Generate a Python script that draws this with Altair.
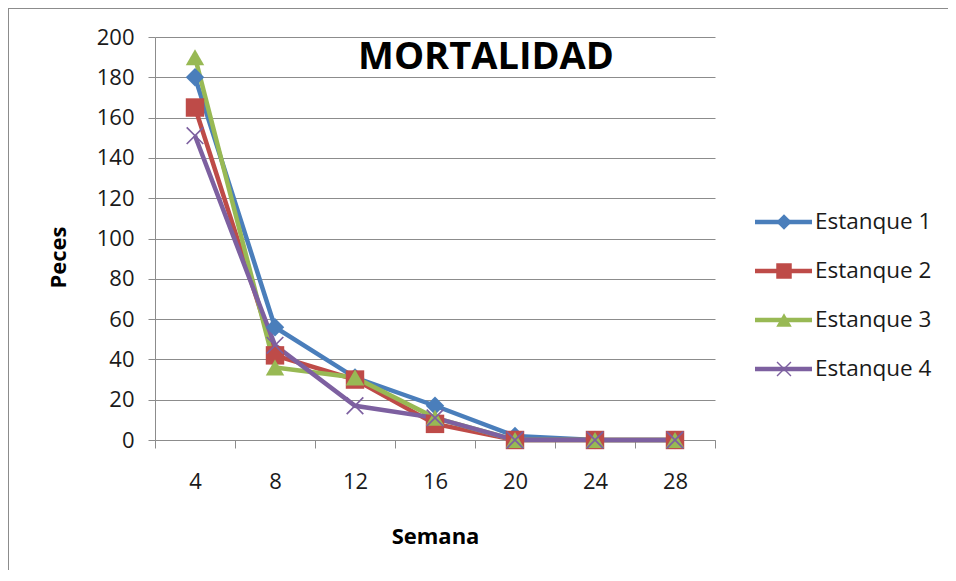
import altair as alt
import pandas as pd

SEMANAS = [4, 8, 12, 16, 20, 24, 28]
SERIES = ["Estanque 1", "Estanque 2", "Estanque 3", "Estanque 4"]
E1 = [180, 56, 31, 17, 2, 0, 0]
E2 = [165, 42, 30, 8, 0, 0, 0]
E3 = [190, 36, 31, 11, 0, 0, 0]
E4 = [151, 47, 17, 11, 0, 0, 0]
COLORS = ["#4A7EBB", "#BE4B48", "#98B954", "#7D60A0"]
Y_TICKS = list(range(0, 201, 20))
TITLE = "MORTALIDAD"
X_TITLE = "Semana"
Y_TITLE = "Peces"

rows = []
for name, vals in zip(SERIES, [E1, E2, E3, E4]):
    for s, v in zip(SEMANAS, vals):
        rows.append({"Semana": s, "Peces": v, "Serie": name})
df = pd.DataFrame(rows)
leg = pd.DataFrame({"Serie": SERIES})
title_df = pd.DataFrame({"t": [TITLE]})

X_PATH = ("M-0.964,-0.836L0.836,0.964L0.964,0.836L-0.836,-0.964Z"
          "M-0.836,0.964L0.964,-0.836L0.836,-0.964L-0.964,0.836Z")
SHAPES = ["diamond", "square", "triangle-up", X_PATH]

FONT = "Open Sans"
GRAY = "#8c8c8c"
TXT = "#1a1a1a"

color = alt.Color("Serie:N", scale=alt.Scale(domain=SERIES, range=COLORS), legend=None)
shape = alt.Shape("Serie:N", scale=alt.Scale(domain=SERIES, range=SHAPES), legend=None)

x = alt.X(
    "Semana:O", sort=SEMANAS,
    scale=alt.Scale(type="band", paddingInner=0, paddingOuter=0),
    axis=alt.Axis(title=X_TITLE, labelAngle=0, tickBand="extent", tickSize=8,
                  grid=False, labelPadding=23, titlePadding=34),
)
y = alt.Y(
    "Peces:Q", scale=alt.Scale(domain=[0, 200], nice=False),
    axis=alt.Axis(title=Y_TITLE, values=Y_TICKS, grid=True, tickSize=7,
                  labelPadding=14, titlePadding=26, titleY=220),
)

lines = alt.Chart(df).mark_line(strokeWidth=4.5).encode(x=x, y=y, color=color, detail="Serie:N")
points = alt.Chart(df).mark_point(filled=True, opacity=1, size=340).encode(
    x=x, y=y, color=color, shape=shape)
plot = alt.layer(lines, points)

ly = alt.Y("Serie:N", scale=alt.Scale(type="point", domain=SERIES, range=[185, 332], padding=0),
           axis=None)
leg_rule = alt.Chart(leg).mark_rule(strokeWidth=4.5).encode(
    x=alt.value(600), x2=alt.value(657), y=ly, color=color)
leg_pts = alt.Chart(leg).mark_point(filled=True, opacity=1, size=240).encode(
    x=alt.value(629), y=ly, color=color, shape=shape)
leg_txt = alt.Chart(leg).mark_text(align="left", baseline="middle", fontSize=22.5,
                                   font=FONT, color=TXT).encode(
    x=alt.value(660), y=ly, text="Serie:N")
legend = alt.layer(leg_rule, leg_pts, leg_txt)

title = alt.Chart(title_df).mark_text(align="center", baseline="middle", fontSize=38,
                                      fontWeight="bold", font=FONT, color="#000000").encode(
    x=alt.value(331), y=alt.value(21), text="t:N")

border = alt.Chart(title_df).mark_rect(fillOpacity=0, stroke=GRAY, strokeWidth=2).encode(
    x=alt.value(-147), x2=alt.value(900), y=alt.value(-29), y2=alt.value(700))

chart = alt.layer(plot, legend, title, border).resolve_scale(y="independent").properties(
    width=560, height=403,
    autosize=alt.AutoSizeParams(type="none"),
    padding={"left": 147, "top": 29, "right": 233, "bottom": 130},
).configure_view(strokeWidth=0).configure_axis(
    labelFont=FONT, labelFontSize=22, labelColor=TXT,
    titleFont=FONT, titleFontSize=22, titleFontWeight="bold", titleColor="#000000",
    domainColor=GRAY, tickColor=GRAY, gridColor=GRAY, domainWidth=1, gridWidth=1,
)

chart.save("out.html", embed_options={"renderer": "svg", "actions": False})
